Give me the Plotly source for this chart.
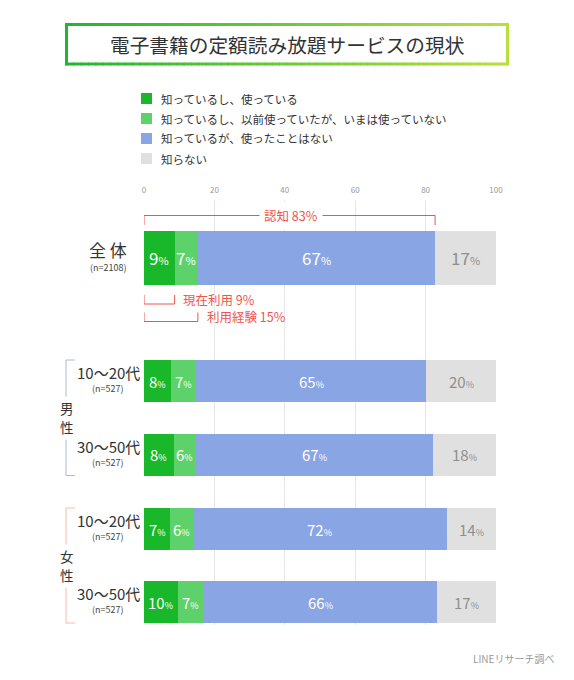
import plotly.graph_objects as go

# ---------------- data ----------------
categories = ["全体", "男性 10〜20代", "男性 30〜50代", "女性 10〜20代", "女性 30〜50代"]
cat_main = ["全 体", "10〜20代", "30〜50代", "10〜20代", "30〜50代"]
cat_n = ["(n=2108)", "(n=527)", "(n=527)", "(n=527)", "(n=527)"]

series_names = [
    "知っているし、使っている",
    "知っているし、以前使っていたが、いまは使っていない",
    "知っているが、使ったことはない",
    "知らない",
]
using_now = [8.7, 7.7, 8.4, 7.4, 9.6]
used_before = [6.6, 7.1, 6.2, 6.4, 7.2]
know_not_used = [67.4, 65.4, 67.4, 72.2, 66.4]
not_know = [17.3, 19.8, 18.0, 14.0, 16.8]
series_values = [using_now, used_before, know_not_used, not_know]

tick_values = [0, 20, 40, 60, 80, 100]

# ---------------- style / layout ----------------
W, H = 574, 680
ML, MR, MT, MB = 144, 78, 200, 55
PLOT_W = W - ML - MR
PLOT_H = H - MT - MB

colors = ["#19B82A", "#5DD16A", "#89A5E3", "#E0E0E0"]
text_colors = ["white", "white", "white", "#8f8f8f"]
RED = "#F0554D"
FONT = "Noto Sans CJK JP"

# bar centre (pixel-like y units) and thickness
bar_y = [257.5, 381, 454.5, 529, 602]
bar_w = [54, 42, 42, 42, 42]


def px(xp):
    return (xp - ML) / PLOT_W


def py(yp):
    return (H - MB - yp) / PLOT_H


def ann(x, y, text, size, color, xref="paper", yref="paper", xanchor="center",
        yanchor="middle", **kw):
    d = dict(x=x, y=y, xref=xref, yref=yref, text=text, showarrow=False,
             xanchor=xanchor, yanchor=yanchor,
             font=dict(size=size, color=color, family=FONT))
    d.update(kw)
    return d


fig = go.Figure()
for name, vals, col in zip(series_names, series_values, colors):
    fig.add_trace(go.Bar(
        y=bar_y, x=vals, width=bar_w, orientation="h", name=name,
        marker=dict(color=col, line=dict(width=0)),
        hoverinfo="skip", showlegend=False,
    ))

annotations = []
shapes = []

# segment labels
for i in range(len(categories)):
    cum = 0
    big = 17 if i == 0 else 15
    for s, vals in enumerate(series_values):
        v = vals[i]
        annotations.append(ann(cum + v / 2, bar_y[i],
                               f"{round(v)}<span style='font-size:{big-6}px'>%</span>",
                               big, text_colors[s], xref="x", yref="y"))
        cum += v

# category labels
for i in range(len(categories)):
    if i == 0:
        annotations.append(ann(px(108), py(249.5), cat_main[i], 17, "#333"))
        annotations.append(ann(px(108), py(267.5), cat_n[i], 9, "#444"))
    else:
        annotations.append(ann(px(108), py(bar_y[i] - 8.5), cat_main[i], 15, "#333"))
        annotations.append(ann(px(108), py(bar_y[i] + 7.5), cat_n[i], 9, "#444"))

# gender group labels + brackets
groups = [("男", "性", 1, 2, "#A9B8E0"), ("女", "性", 3, 4, "#F7BBAA")]
for c1, c2, a, b, col in groups:
    top = bar_y[a] - bar_w[a] / 2
    bot = bar_y[b] + bar_w[b] / 2
    mid = (top + bot) / 2
    annotations.append(ann(px(67), py(mid - 9.5), c1, 13.5, "#333"))
    annotations.append(ann(px(67), py(mid + 9.5), c2, 13.5, "#333"))
    ln = dict(color=col, width=1)
    shapes += [
        dict(type="line", xref="paper", yref="paper", x0=px(66), x1=px(75), y0=py(top), y1=py(top), line=ln),
        dict(type="line", xref="paper", yref="paper", x0=px(66), x1=px(66), y0=py(top), y1=py(mid - 21), line=ln),
        dict(type="line", xref="paper", yref="paper", x0=px(66), x1=px(66), y0=py(mid + 22), y1=py(bot), line=ln),
        dict(type="line", xref="paper", yref="paper", x0=px(66), x1=px(75), y0=py(bot), y1=py(bot), line=ln),
    ]

# red brackets for overall bar
aware = using_now[0] + used_before[0] + know_not_used[0]
used_ever = using_now[0] + used_before[0]
rl = dict(color=RED, width=1)
shapes += [
    dict(type="line", xref="x", yref="y", x0=0, x1=aware, y0=215.5, y1=215.5, line=rl),
    dict(type="line", xref="x", yref="y", x0=0, x1=0, y0=215.5, y1=225, line=rl),
    dict(type="line", xref="x", yref="y", x0=aware, x1=aware, y0=215.5, y1=225, line=rl),
]
annotations.append(ann(aware / 2 + 0.5, 215.5, f"認知 {round(aware)}%", 12.5, RED,
                       xref="x", yref="y", bgcolor="white", borderpad=4))
for val, label, ytop, ybot in [(using_now[0], "現在利用", 295, 304), (used_ever, "利用経験", 312.5, 321.5)]:
    shapes += [
        dict(type="line", xref="x", yref="y", x0=0, x1=val, y0=ybot, y1=ybot, line=rl),
        dict(type="line", xref="x", yref="y", x0=0, x1=0, y0=ytop, y1=ybot, line=rl),
        dict(type="line", xref="x", yref="y", x0=val, x1=val, y0=ytop, y1=ybot, line=rl),
    ]
    annotations.append(ann(val + 1.9, (ytop + ybot) / 2 - 0.5, f"{label} {round(val)}%", 12.5, RED,
                           xref="x", yref="y", xanchor="left"))

# legend (custom)
leg_y = [98.5, 118.5, 138.5, 158.5]
for name, col, ly in zip(series_names, colors, leg_y):
    shapes.append(dict(type="rect", xref="paper", yref="paper",
                       x0=px(141), x1=px(152), y0=py(ly - 5.5), y1=py(ly + 5.5),
                       fillcolor=col, line=dict(width=0)))
    annotations.append(ann(px(159), py(ly), name, 11.5, "#333", xanchor="left"))

# title box with gradient border
bx0, bx1, by0, by1 = 66.5, 507.5, 24.5, 64
c_left = (0x1D, 0xB8, 0x2E)
c_right = (0xB8, 0xE0, 0x3C)


def mix(t):
    return "rgb(%d,%d,%d)" % tuple(round(c_left[k] + (c_right[k] - c_left[k]) * t) for k in range(3))


NSEG = 60
for k in range(NSEG):
    xa = bx0 + (bx1 - bx0) * k / NSEG
    xb = bx0 + (bx1 - bx0) * (k + 1) / NSEG
    c = mix((k + 0.5) / NSEG)
    for yy in (by0, by1):
        shapes.append(dict(type="line", xref="paper", yref="paper",
                           x0=px(xa - 0.5), x1=px(xb + 0.5), y0=py(yy), y1=py(yy),
                           line=dict(color=c, width=3)))
shapes.append(dict(type="line", xref="paper", yref="paper", x0=px(bx0), x1=px(bx0),
                   y0=py(by0 - 1.5), y1=py(by1 + 1.5), line=dict(color=mix(0), width=3)))
shapes.append(dict(type="line", xref="paper", yref="paper", x0=px(bx1), x1=px(bx1),
                   y0=py(by0 - 1.5), y1=py(by1 + 1.5), line=dict(color=mix(1), width=3)))
annotations.append(ann(px(287.5), py(44.5), "電子書籍の定額読み放題サービスの現状", 19.7, "#333"))

# footer
annotations.append(ann(px(556), py(658), "LINEリサーチ調べ", 10, "#999", xanchor="right"))

fig.update_layout(
    width=W, height=H,
    margin=dict(l=ML, r=MR, t=MT, b=MB, pad=0),
    paper_bgcolor="white", plot_bgcolor="white",
    barmode="stack", bargap=0,
    font=dict(family=FONT),
    xaxis=dict(range=[0, 100], side="top", tickvals=tick_values,
               showgrid=True, gridcolor="#e6e6e6", gridwidth=1,
               zeroline=False, showline=False, ticks="", ticklabelstandoff=4,
               tickfont=dict(size=8, color="#999"), fixedrange=True),
    yaxis=dict(range=[H - MB, MT], visible=False, showgrid=False,
               zeroline=False, fixedrange=True),
    annotations=annotations, shapes=shapes,
)

fig.write_html("out.html", config={"displayModeBar": False},
               post_script="document.body.style.margin='0';")
